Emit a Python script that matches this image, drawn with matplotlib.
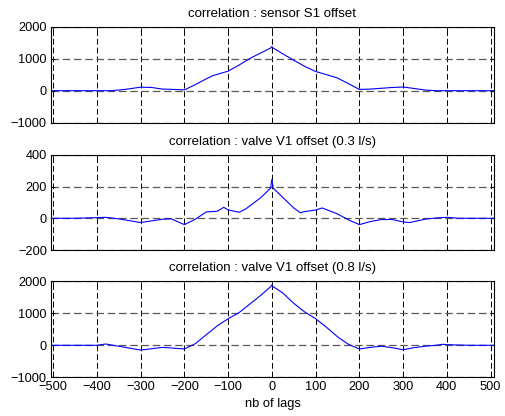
import matplotlib
matplotlib.use("Agg")
import matplotlib.pyplot as plt

plt.rcParams['font.family'] = ['Liberation Sans', 'DejaVu Sans']
plt.rcParams['font.size'] = 9.2

titles = ["correlation : sensor S1 offset",
          "correlation : valve V1 offset (0.3 l/s)",
          "correlation : valve V1 offset (0.8 l/s)"]
xlabel = "nb of lags"

lags1 = [-505, -450, -400, -370, -350, -325, -300, -275, -250, -225, -200, -175, -150, -135, -125,
         -100, -75, -50, -25, -2, 0, 2, 25, 50, 75, 100, 125, 150, 175, 200, 225, 250, 275,
         300, 325, 350, 375, 400, 450, 507]
vals1 = [0, 0, 0, 0, 20, 60, 110, 100, 50, 40, 25, 190, 370, 470, 510,
         610, 800, 1010, 1180, 1340, 1380, 1340, 1150, 950, 760, 600, 500, 395, 220, 40, 50, 75, 100,
         115, 70, 20, 0, 0, 0, 0]

lags2 = [-505, -450, -400, -380, -350, -300, -250, -230, -200, -175, -150, -125, -110, -100, -75,
         -60, -25, -3, 0, 3, 25, 50, 65, 75, 100, 115, 150, 175, 200, 225, 250, 275, 300,
         315, 350, 375, 400, 425, 450, 507]
vals2 = [0, 0, 4, 6, -4, -27, -6, -4, -40, -6, 40, 44, 69, 52, 38,
         58, 131, 190, 246, 190, 131, 65, 35, 42, 52, 65, 27, -10, -40, -21, -8, -8, -23,
         -27, -6, 2, 6, 0, 0, 0]

lags3 = [-505, -450, -400, -380, -350, -300, -250, -200, -175, -150, -125, -100, -75, -50, -25,
         -2, 0, 2, 25, 50, 75, 100, 125, 150, 175, 200, 225, 250, 275, 300, 325, 350, 375,
         390, 400, 450, 507]
vals3 = [0, 0, 0, 40, -30, -150, -65, -115, 50, 330, 605, 830, 1020, 1290, 1565,
         1840, 1890, 1840, 1630, 1310, 1040, 830, 560, 265, 30, -115, -65, -30, -75, -140, -75, -30, 0,
         30, 20, 0, 0]

series = [(lags1, vals1), (lags2, vals2), (lags3, vals3)]
ylims = [(-1000, 2000), (-200, 400), (-1000, 2000)]
yticks = [[-1000, 0, 1000, 2000], [-200, 0, 200, 400], [-1000, 0, 1000, 2000]]
xticks = [-500, -400, -300, -200, -100, 0, 100, 200, 300, 400, 500]

fig = plt.figure(figsize=(5.05, 4.16), dpi=100)
positions = [[0.101, 0.705, 0.877, 0.231],
             [0.101, 0.399, 0.877, 0.229],
             [0.101, 0.093, 0.877, 0.231]]

for i, (pos, (lx, vy)) in enumerate(zip(positions, series)):
    ax = fig.add_axes(pos)
    ax.set_xlim(-505, 507.5)
    ax.set_ylim(*ylims[i])
    ax.set_xticks(xticks)
    ax.set_yticks(yticks[i])
    for xt in xticks:
        ax.axvline(xt, color='k', lw=0.7, ls=(0, (6, 3)), zorder=1)
    for yt in yticks[i]:
        ax.axhline(yt, color='0.35', lw=0.9, ls=(0, (6, 3)), zorder=1)
    ax.plot(lx, vy, color='#0000ff', lw=0.8, zorder=3)
    ax.tick_params(direction='in', length=3, width=0.6, top=True, right=True, pad=3,
                   labelsize=9.2)
    for s in ax.spines.values():
        s.set_linewidth(0.8)
    ax.set_title(titles[i], fontsize=9.5, pad=7)
    if i < 2:
        ax.set_xticklabels([])
    else:
        ax.set_xlabel(xlabel, labelpad=3, fontsize=9.3)

fig.savefig("out.png", dpi=100)
